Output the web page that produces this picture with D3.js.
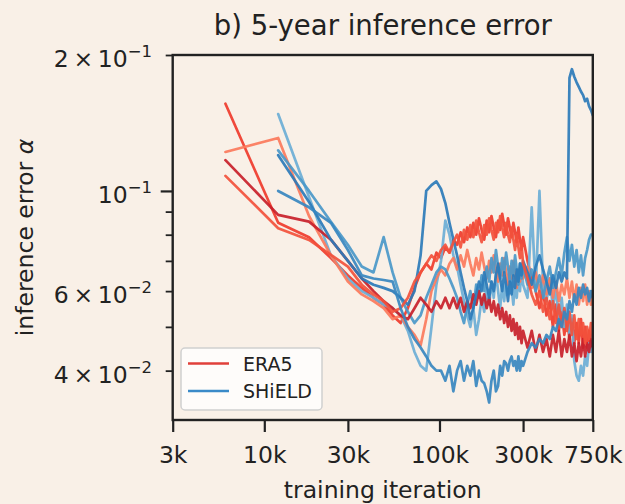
<!DOCTYPE html>
<html>
<head>
<meta charset="utf-8">
<script src="https://cdn.jsdelivr.net/npm/d3@7"></script>
<style>
  html, body { margin: 0; padding: 0; background: #f9f0e7; }
  svg { display: block; font-family: "DejaVu Sans", sans-serif; }
</style>
</head>
<body>
<svg id="chart" width="625" height="504"></svg>
<script>
// Training checkpoints, in thousands of iterations
const iterationsERA5 = [6,12,18,24,30,36,42,48,54,60,66,72,78,84,90,96,102,108,114,120,
  126,132,138,144,150,156,162,168,174,180,186,192,198,204,210,216,222,228,234,240,246,252,258,264,270,276,282,288,294,300,
  318,336,354,372,390,408,426,444,462,480,498,516,534,552,570,588,606,624,642,660,678,696,714,732,750];
const iterationsSHiELD = [12,18,24,30,36,42,48,54,60,66,72,78,84,90,96,102,108,114,120,
  126,132,138,144,150,156,162,168,174,180,186,192,198,204,210,216,222,228,234,240,246,252,258,264,270,276,282,288,294,300,
  318,336,354,372,390,408,426,444,462,480,498,516,534,552,570,588,606,624,642,660,678,696,714,732,750];

// 5-year inference error, ERA5-trained runs
const era5RunA = [.156,.085,.079,.071,.065,.061,.058,.056,.053,.051,.055,.061,.066,.069,.067,.073,.071,.075,.073,.078,
  .076,.081,.077,.083,.079,.085,.080,.087,.082,.078,.086,.081,.088,.083,.079,.086,.082,.089,.084,.080,.087,.083,.079,.085,.081,.077,.083,.078,.074,.079,
  .070,.064,.060,.055,.060,.053,.057,.050,.056,.049,.054,.048,.053,.047,.052,.046,.051,.046,.052,.045,.050,.045,.049,.046,.048];
const era5RunB = [.122,.131,.088,.072,.063,.059,.057,.055,.052,.053,.050,.048,.0455,.052,.060,.064,.067,.065,.069,.071,
  .067,.072,.068,.074,.069,.065,.071,.067,.073,.068,.064,.070,.066,.072,.067,.063,.069,.065,.071,.066,.062,.068,.064,.070,.065,.061,.067,.063,.069,.064,
  .068,.061,.066,.060,.065,.059,.064,.058,.063,.057,.062,.059,.064,.058,.063,.057,.062,.056,.061,.057,.062,.056,.060,.056,.059];
const era5RunC = [.117,.0885,.0855,.078,.070,.064,.060,.057,.055,.053,.052,.055,.058,.056,.054,.057,.055,.058,.055,.058,
  .055,.058,.054,.057,.055,.059,.056,.060,.056,.059,.055,.058,.054,.057,.053,.056,.052,.055,.051,.054,.050,.053,.049,.052,.048,.051,.047,.050,.046,.049,
  .045,.049,.044,.048,.044,.047,.043,.048,.044,.049,.043,.047,.044,.048,.043,.046,.042,.046,.043,.047,.043,.046,.044,.047,.045];
const era5RunD = [.108,.0827,.0779,.0722,.068,.062,.059,.057,.054,.055,.058,.063,.066,.069,.072,.070,.074,.076,.073,.077,
  .080,.075,.082,.078,.084,.079,.086,.081,.077,.084,.080,.087,.082,.078,.085,.081,.088,.083,.079,.085,.080,.077,.083,.078,.074,.080,.075,.071,.076,.069,
  .064,.059,.056,.060,.054,.058,.052,.057,.051,.056,.050,.055,.049,.054,.048,.053,.047,.052,.048,.051,.046,.050,.047,.051,.047];

// 5-year inference error, SHiELD-trained runs
const shieldRunA = [.148,.097,.072,.064,.060,.058,.056,.055,.053,.049,.044,.041,.040,.050,.062,.070,.086,.080,.072,
  .068,.062,.057,.053,.050,.055,.048,.052,.058,.054,.061,.056,.063,.058,.066,.060,.055,.062,.057,.064,.059,.067,.061,.056,.063,.058,.065,.060,.068,.062,
  .058,.092,.060,.100,.062,.057,.064,.055,.061,.052,.058,.050,.056,.048,.053,.042,.039,.038,.041,.039,.043,.041,.046,.044,.048];
const shieldRunB = [.123,.100,.0855,.076,.068,.066,.079,.066,.058,.054,.051,.053,.058,.062,.066,.068,.067,.064,.061,
  .058,.054,.051,.056,.060,.055,.062,.058,.065,.060,.068,.063,.071,.066,.074,.068,.064,.071,.066,.073,.068,.063,.070,.065,.072,.067,.062,.069,.064,.068,
  .062,.067,.060,.065,.058,.063,.068,.061,.066,.071,.065,.073,.079,.070,.076,.068,.074,.066,.072,.065,.071,.074,.078,.080,.080];
const shieldRunC = [.120,.0945,.078,.070,.064,.062,.061,.060,.058,.056,.060,.072,.100,.103,.105,.101,.094,.085,.078,
  .072,.066,.061,.057,.052,.055,.059,.063,.060,.066,.062,.058,.063,.060,.065,.069,.064,.060,.066,.062,.057,.063,.059,.065,.061,.067,.063,.069,.065,.070,
  .066,.062,.068,.072,.067,.063,.059,.065,.061,.066,.063,.066,.064,.178,.186,.179,.174,.170,.166,.163,.158,.160,.154,.151,.147];
const shieldRunD = [.100,.092,.085,.074,.065,.064,.0635,.063,.055,.050,.047,.045,.043,.041,.040,.040,.038,.041,.036,
  .040,.042,.038,.041,.039,.042,.037,.040,.038,.0375,.036,.034,.038,.040,.036,.037,.041,.039,.042,.0415,.040,.042,.043,.041,.042,.040,.043,.040,.042,.041,
  .044,.046,.045,.047,.046,.048,.047,.050,.049,.052,.050,.054,.052,.057,.054,.059,.056,.061,.058,.062,.059,.061,.057,.060,.058];

const era5Runs = [era5RunA, era5RunB, era5RunC, era5RunD];
const shieldRuns = [shieldRunA, shieldRunB, shieldRunC, shieldRunD];
const era5Colors = ["#ef3b2c", "#fb7a5c", "#c8202a", "#f2513c"];
const shieldColors = ["#6baed6", "#4a98c9", "#2b7bba", "#3787c0"];

const xTicks = [3, 10, 30, 100, 300, 750];
const yMajorTicks = [0.1];
const yMinorTicks = [0.04, 0.05, 0.06, 0.07, 0.08, 0.09, 0.2];
const yLabelValues = [0.2, 0.1, 0.06, 0.04];

const legendItems = ["ERA5", "SHiELD"];
const legendColors = ["#e0403a", "#3a8ac8"];

const plot = { left: 172.7, right: 592.8, top: 55, bottom: 420 };

const svg = d3.select("#chart");
svg.append("rect").attr("width", 625).attr("height", 504).attr("fill", "#f9f0e7");

const x = d3.scaleLog().domain([3, 750]).range([plot.left, plot.right]);
const y = d3.scaleLog().domain([0.0311, 0.2]).range([plot.bottom, plot.top]);

svg.append("defs").append("clipPath").attr("id", "plot-clip")
  .append("rect").attr("x", plot.left).attr("y", plot.top)
  .attr("width", plot.right - plot.left).attr("height", plot.bottom - plot.top);

const line = d3.line().x(d => x(d[0])).y(d => y(d[1]));
const lines = svg.append("g").attr("clip-path", "url(#plot-clip)")
  .attr("fill", "none").attr("stroke-width", 2.7)
  .attr("stroke-linejoin", "round").attr("stroke-linecap", "round");

era5Runs.forEach((run, i) => {
  lines.append("path")
    .datum(d3.zip(iterationsERA5, run))
    .attr("stroke", era5Colors[i]).attr("stroke-opacity", 0.92)
    .attr("d", line);
  lines.append("path")
    .datum(d3.zip(iterationsSHiELD, shieldRuns[i]))
    .attr("stroke", shieldColors[i]).attr("stroke-opacity", 0.92)
    .attr("d", line);
});

// x axis
const xAxis = svg.append("g").attr("transform", `translate(0,${plot.bottom})`)
  .call(d3.axisBottom(x).tickValues(xTicks).tickFormat(d => d + "k").tickSize(12).tickSizeOuter(0));
xAxis.select(".domain").remove();
xAxis.selectAll(".tick line").attr("stroke", "#222").attr("stroke-width", 2.2);
xAxis.selectAll(".tick text").attr("y", 43).attr("dy", null)
  .attr("fill", "#222").style("font-size", "23.5px").style("font-family", "DejaVu Sans");

// y axis: major and minor ticks
const yMajor = svg.append("g").attr("transform", `translate(${plot.left},0)`)
  .call(d3.axisLeft(y).tickValues(yMajorTicks).tickFormat("").tickSize(12).tickSizeOuter(0));
yMajor.select(".domain").remove();
yMajor.selectAll(".tick line").attr("stroke", "#222").attr("stroke-width", 2.2);
const yMinor = svg.append("g").attr("transform", `translate(${plot.left},0)`)
  .call(d3.axisLeft(y).tickValues(yMinorTicks).tickFormat("").tickSize(7).tickSizeOuter(0));
yMinor.select(".domain").remove();
yMinor.selectAll(".tick line").attr("stroke", "#222").attr("stroke-width", 1.8);

// y tick labels in scientific notation
const yLabels = svg.append("g").attr("fill", "#222")
  .style("font-size", "23.5px").attr("text-anchor", "end");
yLabelValues.forEach(v => {
  const e = Math.floor(Math.log10(v) + 1e-9);
  const m = Math.round(v / Math.pow(10, e));
  const t = yLabels.append("text").attr("x", 152).attr("y", y(v) + 12);
  t.append("tspan").text((m === 1 ? "" : m + "\u2009\u00d7\u2009") + "10");
  t.append("tspan").attr("dy", -10).style("font-size", "16.5px").text("\u2212" + Math.abs(e));
});

// frame
svg.append("rect").attr("x", plot.left).attr("y", plot.top)
  .attr("width", plot.right - plot.left).attr("height", plot.bottom - plot.top)
  .attr("fill", "none").attr("stroke", "#222").attr("stroke-width", 2.4);

// titles
svg.append("text").attr("x", (plot.left + plot.right) / 2).attr("y", 35)
  .attr("text-anchor", "middle").attr("fill", "#222").style("font-size", "27.5px")
  .text("b) 5-year inference error");
svg.append("text").attr("x", (plot.left + plot.right) / 2).attr("y", 498)
  .attr("text-anchor", "middle").attr("fill", "#222").style("font-size", "23.5px")
  .text("training iteration");
const yTitle = svg.append("text")
  .attr("transform", `translate(33,${(plot.top + plot.bottom) / 2}) rotate(-90)`)
  .attr("text-anchor", "middle").attr("fill", "#222").style("font-size", "23.5px");
yTitle.append("tspan").text("inference error ");
yTitle.append("tspan").style("font-style", "italic").text("\u03b1");

// legend
const legend = svg.append("g");
legend.append("rect").attr("x", 181).attr("y", 348).attr("width", 141).attr("height", 62)
  .attr("rx", 4).attr("fill", "#ffffff").attr("fill-opacity", 0.8)
  .attr("stroke", "#d0d0d0").attr("stroke-width", 1.5);
legendItems.forEach((name, i) => {
  const cy = 363.5 + i * 27.5;
  legend.append("line").attr("x1", 188).attr("x2", 229).attr("y1", cy).attr("y2", cy)
    .attr("stroke", legendColors[i]).attr("stroke-width", 2.6);
  legend.append("text").attr("x", 243).attr("y", cy + 7)
    .attr("fill", "#222").style("font-size", "19px").text(name);
});
</script>
</body>
</html>
